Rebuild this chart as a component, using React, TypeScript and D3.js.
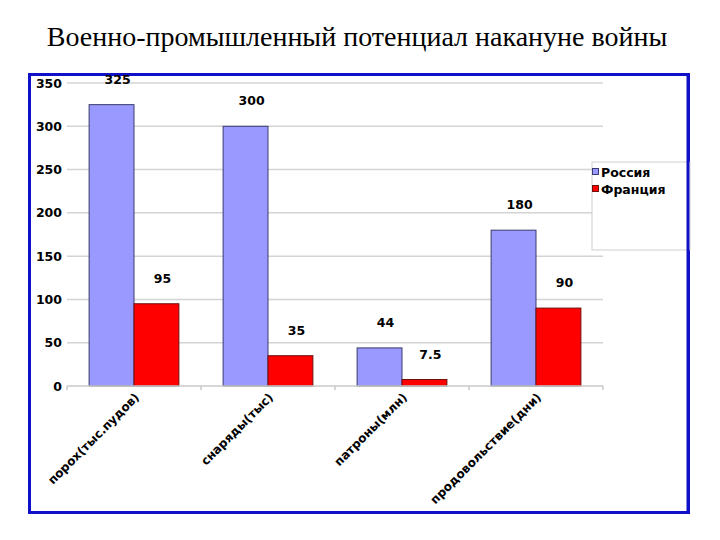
import React, { useEffect, useRef } from 'react';
import * as d3 from 'd3';

const categories = ['порох(тыс.пудов)', 'снаряды(тыс)', 'патроны(млн)', 'продовольствие(дни)'];
const seriesNames = ['Россия', 'Франция'];
const russia = [325, 300, 44, 180];
const france = [95, 35, 7.5, 90];
const yTicks = [0, 50, 100, 150, 200, 250, 300, 350];

const colors = ['#9999ff', '#ff0000'];
const font = "'DejaVu Sans', Verdana, sans-serif";

export default function App() {
  const svgRef = useRef<SVGSVGElement>(null);

  useEffect(() => {
    if (!svgRef.current) return;
    const svg = d3.select(svgRef.current);
    svg.selectAll('*').remove();

    const W = 720;
    const H = 540;
    const plot = { left: 67, right: 603, top: 83, bottom: 386 };

    svg.append('rect').attr('width', W).attr('height', H).attr('fill', '#fff');

    // title
    svg.append('text')
      .attr('x', 357)
      .attr('y', 46)
      .attr('text-anchor', 'middle')
      .attr('font-family', "'Liberation Serif', 'Times New Roman', serif")
      .attr('font-size', 28)
      .attr('fill', '#000')
      .text('Военно-промышленный потенциал накануне войны');

    // blue frame
    svg.append('rect')
      .attr('x', 29.5)
      .attr('y', 74.5)
      .attr('width', 659)
      .attr('height', 438)
      .attr('fill', '#fff')
      .attr('stroke', '#1010c8')
      .attr('stroke-width', 3);

    const x0 = d3.scaleBand<string>()
      .domain(categories)
      .range([plot.left, plot.right])
      .paddingInner(0.33)
      .paddingOuter(0.165);

    const x1 = d3.scaleBand<string>()
      .domain(seriesNames)
      .range([0, x0.bandwidth()]);

    const y = d3.scaleLinear().domain([0, 350]).range([plot.bottom, plot.top]);

    // gridlines
    svg.append('g')
      .selectAll('line')
      .data(yTicks.filter(t => t > 0))
      .enter()
      .append('line')
      .attr('x1', plot.left)
      .attr('x2', plot.right)
      .attr('y1', d => y(d))
      .attr('y2', d => y(d))
      .attr('stroke', '#d4d4d4')
      .attr('stroke-width', 1.5);

    // y tick labels
    svg.append('g')
      .selectAll('text')
      .data(yTicks)
      .enter()
      .append('text')
      .attr('x', 62)
      .attr('y', d => y(d) + 4.5)
      .attr('text-anchor', 'end')
      .attr('font-family', font)
      .attr('font-weight', 'bold')
      .attr('font-size', 12.5)
      .text(d => d);

    // bars
    const groups = svg.append('g')
      .selectAll('g')
      .data(categories)
      .enter()
      .append('g')
      .attr('transform', d => `translate(${x0(d)},0)`);

    groups.each(function (cat, i) {
      const vals = [russia[i], france[i]];
      const g = d3.select(this);
      g.selectAll('rect')
        .data(vals)
        .enter()
        .append('rect')
        .attr('x', (_, j) => x1(seriesNames[j]) || 0)
        .attr('width', x1.bandwidth())
        .attr('y', v => y(v))
        .attr('height', v => y(0) - y(v))
        .attr('fill', (_, j) => colors[j])
        .attr('stroke', (_, j) => (j === 0 ? '#3a3a6e' : '#6e1010'))
        .attr('stroke-width', 1);

      g.selectAll('text.val')
        .data(vals)
        .enter()
        .append('text')
        .attr('class', 'val')
        .attr('x', (_, j) => (x1(seriesNames[j]) || 0) + x1.bandwidth() / 2 + 6)
        .attr('y', v => y(v) - 21)
        .attr('text-anchor', 'middle')
        .attr('font-family', font)
        .attr('font-weight', 'bold')
        .attr('font-size', 12.5)
        .text(v => v);
    });

    // baseline with ticks
    svg.append('line')
      .attr('x1', plot.left)
      .attr('x2', plot.right)
      .attr('y1', y(0))
      .attr('y2', y(0))
      .attr('stroke', '#c8c8c8')
      .attr('stroke-width', 1.5);

    const step = x0.step();
    svg.append('g')
      .selectAll('line')
      .data(d3.range(categories.length + 1))
      .enter()
      .append('line')
      .attr('x1', i => plot.left + i * step)
      .attr('x2', i => plot.left + i * step)
      .attr('y1', y(0))
      .attr('y2', y(0) + 4)
      .attr('stroke', '#c8c8c8')
      .attr('stroke-width', 1.5);

    // category labels
    svg.append('g')
      .selectAll('text')
      .data(categories)
      .enter()
      .append('text')
      .attr('transform', d => `translate(${(x0(d) || 0) + x0.bandwidth() / 2 + 6},${y(0) + 12}) rotate(-45)`)
      .attr('text-anchor', 'end')
      .attr('font-family', font)
      .attr('font-weight', 'bold')
      .attr('font-size', 12)
      .text(d => d);

    // legend
    const lg = svg.append('g');
    lg.append('rect')
      .attr('x', 592)
      .attr('y', 162)
      .attr('width', 98)
      .attr('height', 88)
      .attr('fill', '#fff')
      .attr('stroke', '#cfcfcf')
      .attr('stroke-width', 1);
    seriesNames.forEach((name, i) => {
      lg.append('rect')
        .attr('x', 592.5)
        .attr('y', 168.5 + i * 17)
        .attr('width', 6)
        .attr('height', 6)
        .attr('fill', colors[i])
        .attr('stroke', i === 0 ? '#3a3a6e' : '#6e1010');
      lg.append('text')
        .attr('x', 601)
        .attr('y', 176.5 + i * 17)
        .attr('font-family', font)
        .attr('font-weight', 'bold')
        .attr('font-size', 12.5)
        .text(name);
    });

    // redraw right frame edge over legend
    svg.append('line')
      .attr('x1', 688)
      .attr('x2', 688)
      .attr('y1', 74.5)
      .attr('y2', 512.5)
      .attr('stroke', '#1010c8')
      .attr('stroke-width', 3);
  }, []);

  return (
    <div style={{ position: 'absolute', left: 0, top: 0 }}>
      <svg ref={svgRef} width={720} height={540} viewBox="0 0 720 540" style={{ display: 'block' }} />
    </div>
  );
}
